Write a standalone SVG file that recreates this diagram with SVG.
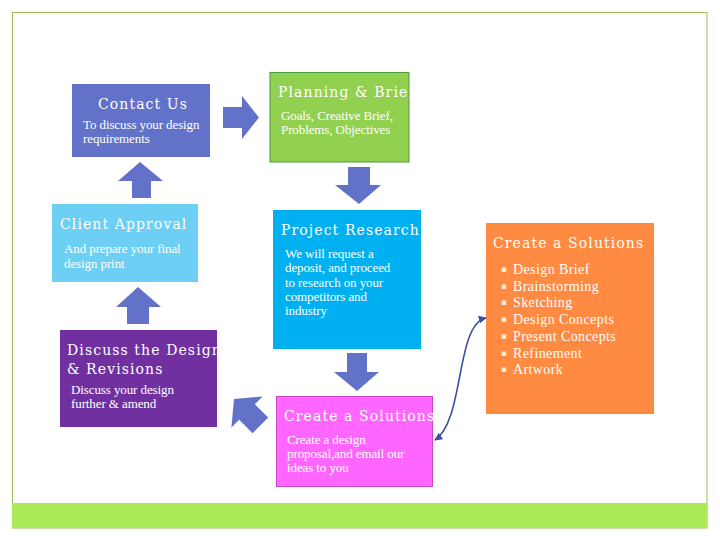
<svg xmlns="http://www.w3.org/2000/svg" width="720" height="540" viewBox="0 0 720 540">
<style>
.title{font-family:"DejaVu Serif","Liberation Serif",serif;font-size:14px;fill:#fff;letter-spacing:1.1px}
.sub{font-family:"Liberation Serif","DejaVu Serif",serif;font-size:13px;fill:#fff;letter-spacing:-0.1px}
.li{font-family:"Liberation Serif","DejaVu Serif",serif;font-size:14px;fill:#fff;letter-spacing:0.4px}
.bul{font-family:"DejaVu Sans",sans-serif;font-size:9px;fill:#f3e6dc}
.blk{fill:#6272C9}
.conn{fill:none;stroke:#3F4FA0;stroke-width:1.6}
</style>
<defs>
<clipPath id="cpPlan"><rect x="270" y="72" width="139" height="90"/></clipPath>
<clipPath id="cpDisc"><rect x="60" y="330" width="157" height="97"/></clipPath>
<clipPath id="cpPink"><rect x="276" y="396" width="157" height="91"/></clipPath>
<marker id="ah" viewBox="0 0 10 10" refX="9" refY="5" markerWidth="5" markerHeight="5" orient="auto-start-reverse">
<path d="M0,0 L10,5 L0,10 z" fill="#3F4FA0"/>
</marker>
</defs>
<rect x="0" y="0" width="720" height="540" fill="#fff"/>
<rect x="12.5" y="12.5" width="694.5" height="515.5" fill="#fff" stroke="#9BBB59" stroke-width="1"/>
<rect x="12" y="503" width="695" height="25" fill="#AAEA58"/>

<g id="contact-us">
<rect x="72" y="84" width="138" height="73" fill="#6272C9"/>
<text class="title" x="143" y="109" text-anchor="middle">Contact Us</text>
<text class="sub" x="83" y="129">To discuss your design</text>
<text class="sub" x="83" y="143">requirements</text>
</g>

<g id="planning-brief">
<rect x="270" y="72.5" width="139" height="89.5" fill="#92D050" stroke="#4E9A3E" stroke-width="1"/>
<g clip-path="url(#cpPlan)">
<text class="title" x="278" y="97">Planning &amp; Brief</text>
</g>
<text class="sub" x="281" y="120">Goals, Creative Brief,</text>
<text class="sub" x="281" y="134">Problems, Objectives</text>
</g>

<g id="project-research">
<rect x="273" y="210" width="148" height="139" fill="#00B0F0"/>
<text class="title" x="281" y="235">Project Research</text>
<text class="sub" x="285" y="258">We will request a</text>
<text class="sub" x="285" y="272">deposit, and proceed</text>
<text class="sub" x="285" y="287">to research on your</text>
<text class="sub" x="285" y="301">competitors and</text>
<text class="sub" x="285" y="315">industry</text>
</g>

<g id="create-solutions-pink">
<rect x="276.5" y="396.5" width="156" height="90" fill="#FF66FF" stroke="#C848C8" stroke-width="1"/>
<g clip-path="url(#cpPink)">
<text class="title" x="284" y="421">Create a Solutions</text>
</g>
<text class="sub" x="287" y="444">Create a design</text>
<text class="sub" x="287" y="458">proposal,and email our</text>
<text class="sub" x="287" y="472">ideas to you</text>
</g>

<g id="discuss-design">
<rect x="60" y="330" width="157" height="97" fill="#7030A0"/>
<g clip-path="url(#cpDisc)">
<text class="title" x="67" y="355">Discuss the Design</text>
<text class="title" x="67" y="374">&amp; Revisions</text>
</g>
<text class="sub" x="71" y="394">Discuss your design</text>
<text class="sub" x="71" y="408">further &amp; amend</text>
</g>

<g id="client-approval">
<rect x="52" y="204" width="146" height="78" fill="#6DCFF3"/>
<text class="title" x="60" y="229">Client Approval</text>
<text class="sub" x="64" y="253">And prepare your final</text>
<text class="sub" x="64" y="268">design print</text>
</g>

<g id="create-solutions-orange">
<rect x="486" y="223" width="168" height="191" fill="#FF8A42"/>
<text class="title" x="493" y="248">Create a Solutions</text>
<g class="bul">
<text x="501" y="272">▪</text>
<text x="501" y="289">▪</text>
<text x="501" y="305">▪</text>
<text x="501" y="322">▪</text>
<text x="501" y="339">▪</text>
<text x="501" y="356">▪</text>
<text x="501" y="372">▪</text>
</g>
<g class="li">
<text x="513" y="274">Design Brief</text>
<text x="513" y="291">Brainstorming</text>
<text x="513" y="307">Sketching</text>
<text x="513" y="324">Design Concepts</text>
<text x="513" y="341">Present Concepts</text>
<text x="513" y="358">Refinement</text>
<text x="513" y="374">Artwork</text>
</g>
</g>

<g id="connectors">
<polygon class="blk" points="223,107 242,107 242,96 259,117.5 242,139 242,128 223,128"/>
<polygon class="blk" points="348,167 370,167 370,185 381,185 359,204 335,185 348,185"/>
<polygon class="blk" points="347,353 367,353 367,372 379,372 357,391 334,372 347,372"/>
<polygon class="blk" points="132,198 151,198 151,181 163,181 140,162 118,181 132,181"/>
<polygon class="blk" points="127,324 149,324 149,307 161,307 138,287 116,307 127,307"/>
<polygon class="blk" points="234,399 262.6,396.4 254.8,404.2 268.2,417.6 252.6,433.2 239.2,419.8 231.4,427.6"/>
<path class="conn" d="M435,440 C465,420 455,325 486,318" marker-start="url(#ah)" marker-end="url(#ah)"/>
</g>
</svg>
